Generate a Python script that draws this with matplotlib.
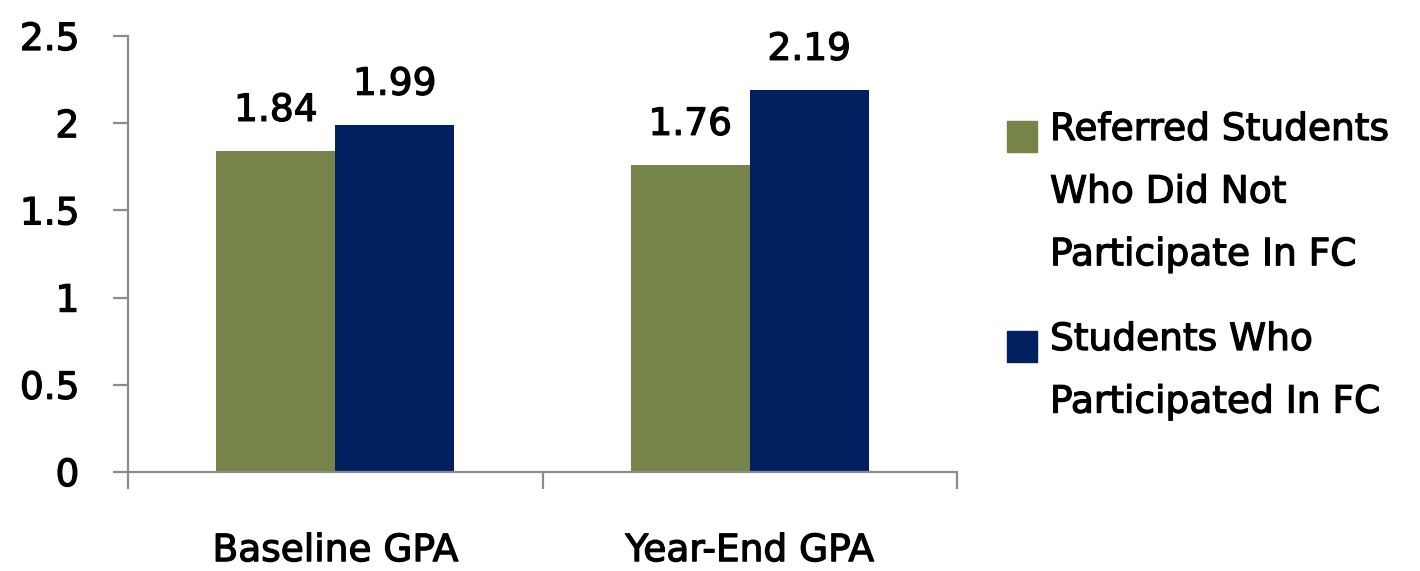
import matplotlib.pyplot as plt
import matplotlib.patheffects as pe
from matplotlib.patches import Rectangle
import numpy as np

# ==== data ====
categories = ['Baseline GPA', 'Year-End GPA']
series_names = ['Referred Students\nWho Did Not\nParticipate In FC',
                'Students Who\nParticipated In FC']
not_participated = [1.84, 1.76]
participated = [1.99, 2.19]
colors = ['#76844A', '#00205F']
yticks = [0, 0.5, 1, 1.5, 2, 2.5]

plt.rcParams['font.family'] = 'DejaVu Sans'
fs = 27
grey = '#8C8C8C'
# reference font is a bit heavier than DejaVu regular
heavy = [pe.withStroke(linewidth=0.9, foreground='black')]

fig = plt.figure(figsize=(14.2, 5.71), dpi=100)
ax = fig.add_axes([128 / 1420, 1 - 472 / 571, (957 - 128) / 1420, (472 - 36) / 571])

x = np.arange(len(categories))
w = 0.287
b1 = ax.bar(x - w / 2, not_participated, w, color=colors[0])
b2 = ax.bar(x + w / 2, participated, w, color=colors[1])
for bars, vals in [(b1, not_participated), (b2, participated)]:
    for t in ax.bar_label(bars, labels=[f'{v:.2f}' for v in vals], padding=16, fontsize=fs):
        t.set_path_effects(heavy)

ax.set_xlim(-0.5, 1.5)
ax.set_ylim(0, 2.5)
ax.set_yticks(yticks)
ax.set_yticklabels([f'{t:g}' for t in yticks], fontsize=fs)
ax.set_xticks(x)
ax.set_xticklabels(categories, fontsize=fs)
ax.set_xticks([-0.5, 0.5, 1.5], minor=True)
for t in ax.get_xticklabels() + ax.get_yticklabels():
    t.set_path_effects(heavy)

for s in ['top', 'right']:
    ax.spines[s].set_visible(False)
for s in ['left', 'bottom']:
    ax.spines[s].set_color(grey)
    ax.spines[s].set_linewidth(1.6)
ax.tick_params(axis='y', direction='out', length=11, width=1.6, color=grey, pad=24)
ax.tick_params(axis='x', which='major', length=0, pad=44)
ax.tick_params(axis='x', which='minor', direction='out', length=12, width=1.6, color=grey)

# legend drawn by hand so the box sits on the first line of each label
text_x = 1050 / 1420
box_x = 1007 / 1420
tops = [112, 322]
for name, col, top in zip(series_names, colors, tops):
    fig.text(text_x, 1 - top / 571, name, fontsize=fs, va='top', ha='left',
             linespacing=1.95, path_effects=heavy)
    fig.add_artist(Rectangle((box_x, 1 - (top + 40) / 571), 30 / 1420, 31 / 571,
                             transform=fig.transFigure, color=col))

fig.savefig('out.png', dpi=100)
